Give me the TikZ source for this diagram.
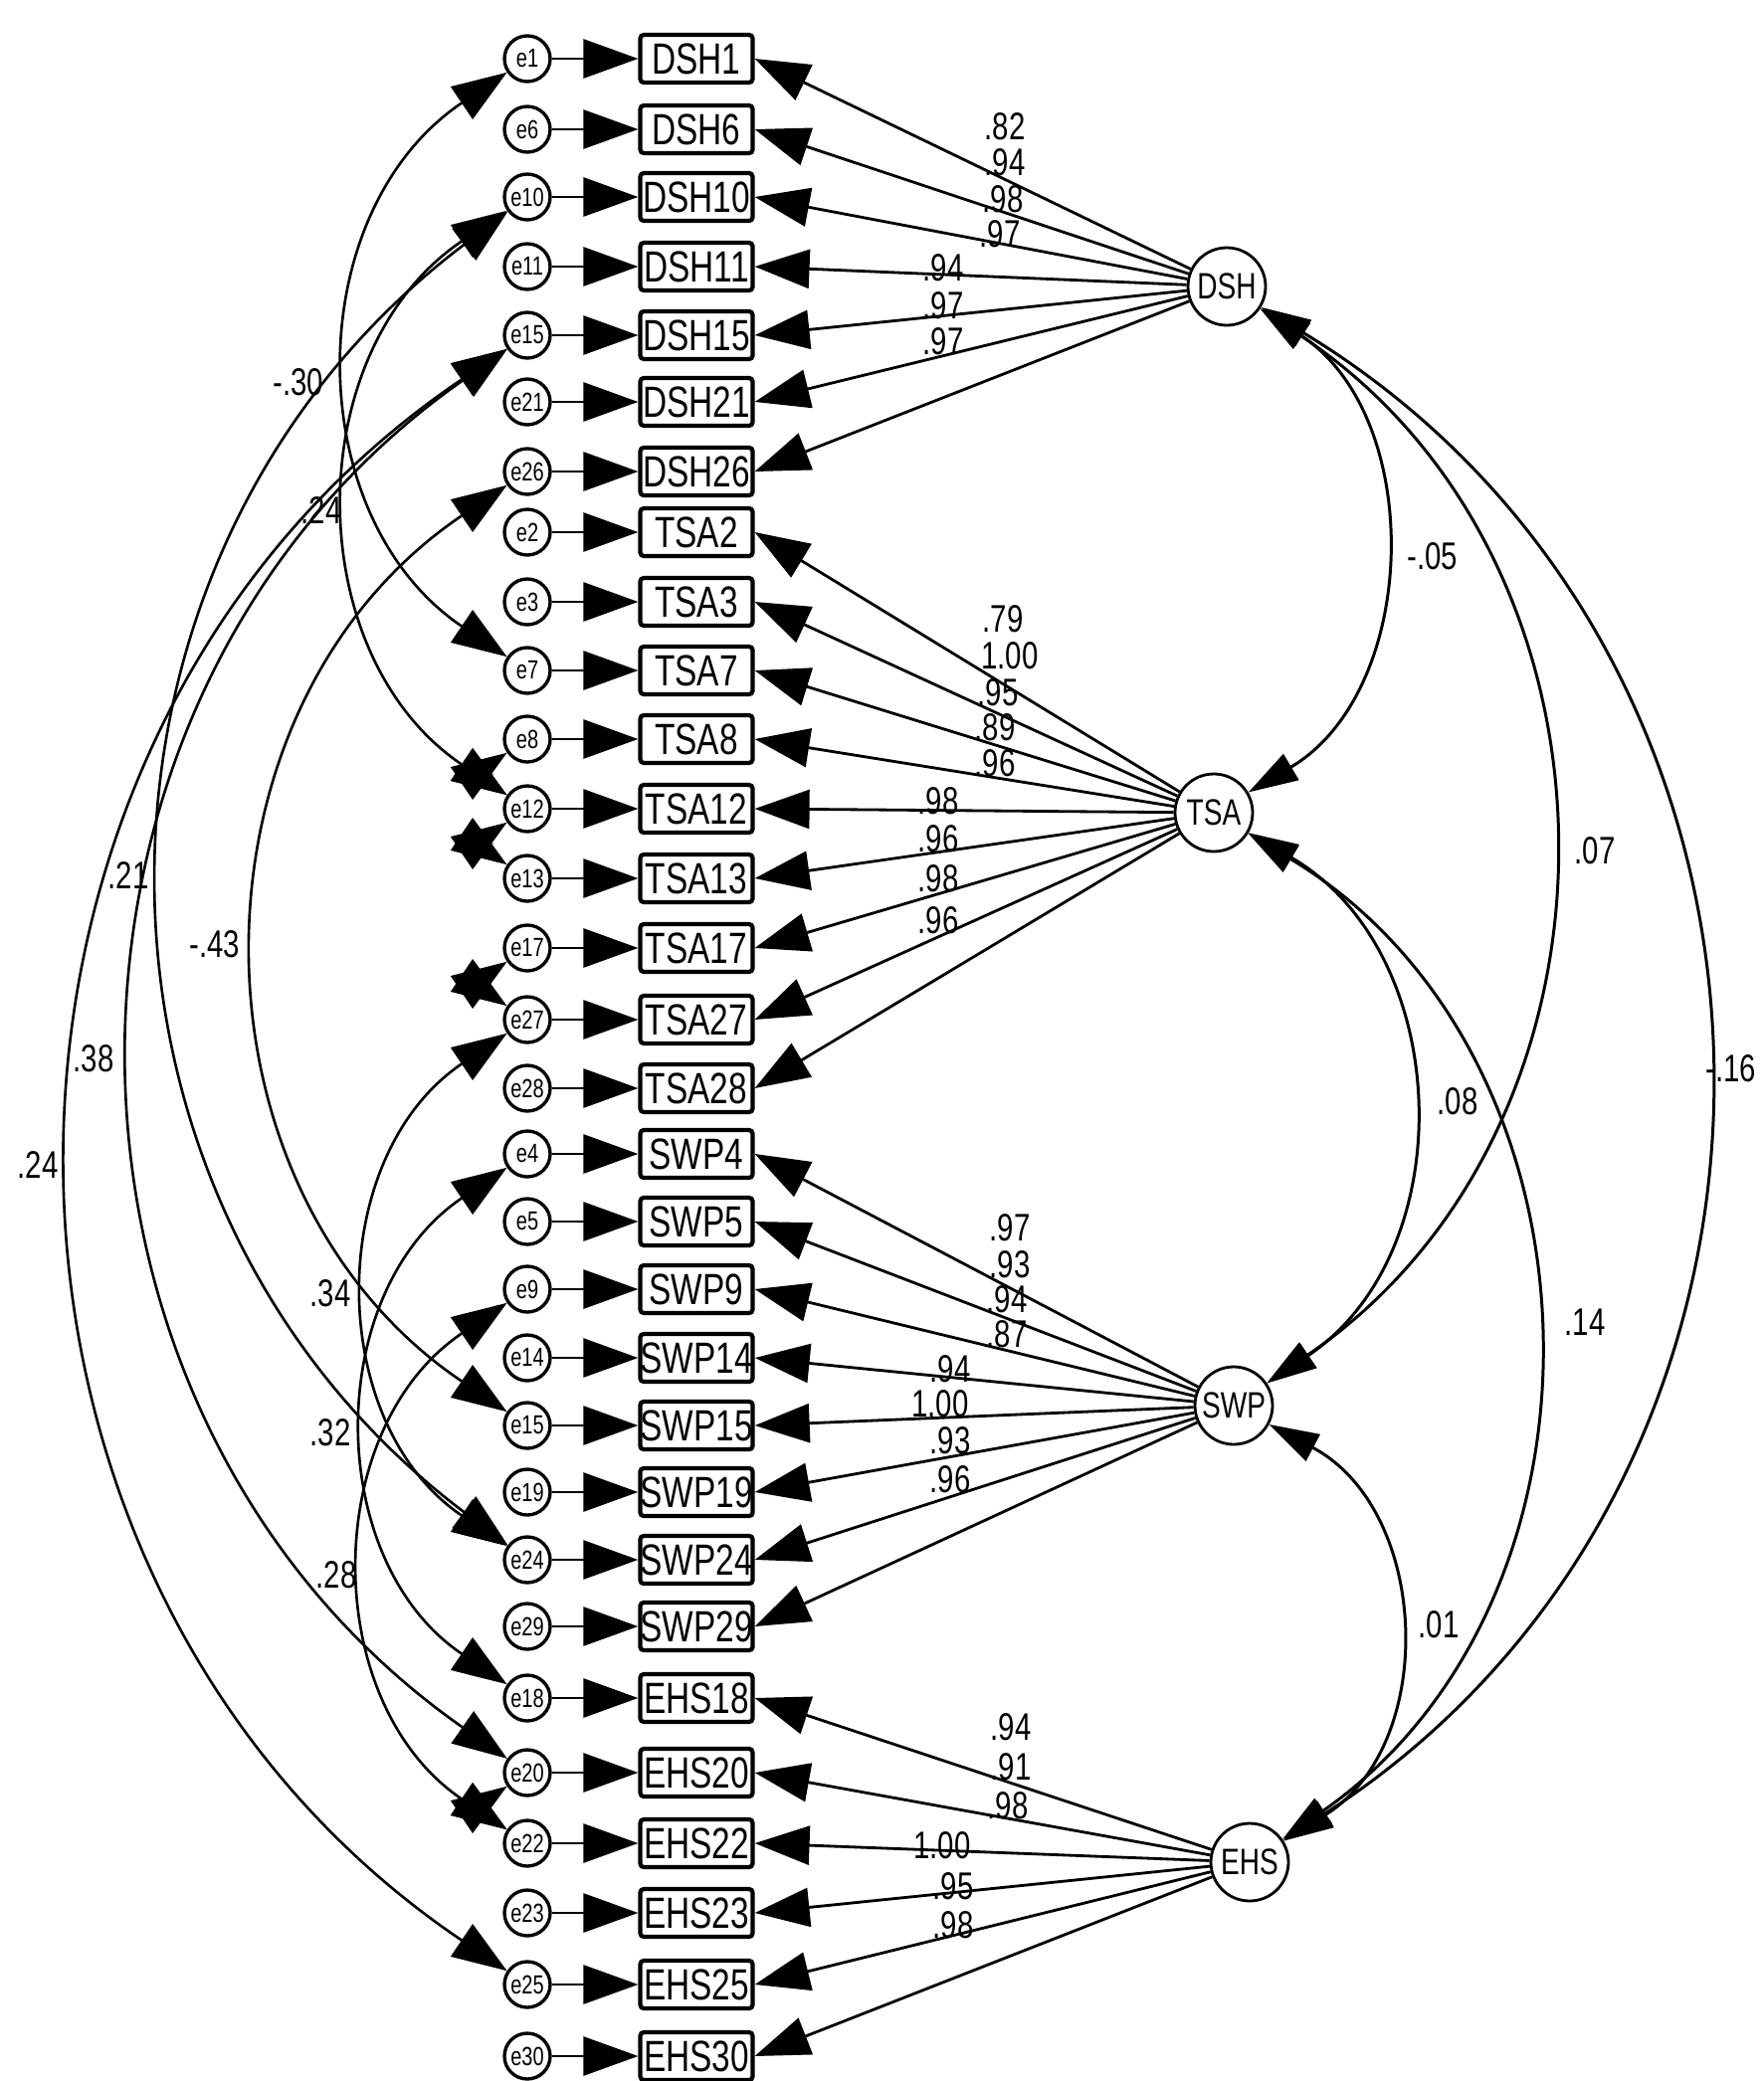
\documentclass[tikz,border=0pt]{standalone}
\usepackage{fontspec}
\newfontfamily\amosfont[FakeStretch=0.76]{Liberation Sans}
\usetikzlibrary{arrows.meta}

\begin{document}
\begin{tikzpicture}[
    x=0.02cm, y=0.02cm,
    >={Triangle[length=1.1cm, width=0.78cm]},
    item/.style={draw, line width=2.4pt, rounded corners=2pt, minimum width=2.26cm, minimum height=0.96cm, inner sep=0pt, font=\amosfont\fontsize{25}{25}\selectfont},
    err/.style={draw, circle, line width=1.9pt, minimum size=0.92cm, inner sep=0pt, font=\amosfont\fontsize{15}{15}\selectfont},
    factor/.style={draw, circle, line width=1.6pt, minimum size=1.56cm, inner sep=0pt, font=\amosfont\fontsize{21}{21}\selectfont},
    loading/.style={->, line width=1.6pt},
    cov/.style={<->, line width=1.5pt, bend right=56, looseness=1.1},
    corr/.style={{Triangle[length=1cm, width=0.6cm]}-{Triangle[length=1cm, width=0.6cm]}, line width=1.7pt},
    est/.style={font=\amosfont\fontsize{22}{22}\selectfont, inner sep=0pt}
]
\useasboundingbox (0,0) rectangle (1773,-2092);

% observed items with their error terms
\foreach \lab/\ee/\yy [count=\i] in {DSH1/1/59, DSH6/6/130, DSH10/10/198, DSH11/11/268, DSH15/15/337, DSH21/21/404, DSH26/26/474,
    TSA2/2/535, TSA3/3/605, TSA7/7/674, TSA8/8/743, TSA12/12/813, TSA13/13/883, TSA17/17/953, TSA27/27/1025, TSA28/28/1094,
    SWP4/4/1160, SWP5/5/1228, SWP9/9/1296, SWP14/14/1365, SWP15/15/1433, SWP19/19/1500, SWP24/24/1568, SWP29/29/1635,
    EHS18/18/1707, EHS20/20/1782, EHS22/22/1853, EHS23/23/1923, EHS25/25/1995, EHS30/30/2067}
{
    \node[item] (b\i) at (700,-\yy) {\lab};
    \node[err] (e\i) at (530,-\yy) {e\ee};
    \draw[loading] (e\i) -- (b\i);
}

% latent factors
\node[factor] (DSH) at (1233,-288) {DSH};
\node[factor] (TSA) at (1220,-817) {TSA};
\node[factor] (SWP) at (1240,-1413) {SWP};
\node[factor] (EHS) at (1256,-1872) {EHS};

\foreach \i in {1,...,7} \draw[loading] (DSH) -- (b\i.east);
\foreach \i in {8,...,16} \draw[loading] (TSA) -- (b\i.east);
\foreach \i in {17,...,24} \draw[loading] (SWP) -- (b\i.east);
\foreach \i in {25,...,30} \draw[loading] (EHS) -- (b\i.east);

% loadings
\foreach \x/\y/\v [count=\i] in {1010/127/.82, 1010/163/.94, 1008/200/.98, 1005/235/.97, 948/269/.94, 948/307/.97, 948/343/.97,
    1008/622/.79, 1015/659/1.00, 1003/696/.95, 1000/731/.89, 1000/767/.96, 943/805/.98, 943/843/.96, 943/883/.98, 943/925/.96,
    1015/1234/.97, 1015/1271/.93, 1012/1306/.94, 1012/1341/.87, 955/1376/.94, 945/1411/1.00, 955/1448/.93, 955/1487/.96,
    1016/1736/.94, 1016/1776/.91, 1013/1815/.98, 947/1855/1.00, 958/1896/.95, 958/1935/.98}
    \node[est] (w\i) at (\x,-\y) {\v};

% factor correlations
\draw[corr, bend left=58, looseness=1.05] (DSH) to (TSA);
\draw[corr, bend left=56, looseness=1.09] (DSH) to (SWP);
\draw[corr, bend left=58, looseness=1.13] (DSH) to (EHS);
\draw[corr, bend left=58, looseness=1.1] (TSA) to (SWP);
\draw[corr, bend left=57, looseness=1.08] (TSA) to (EHS);
\draw[corr, bend left=60, looseness=1.12] (SWP) to (EHS);

\node[est] (r1) at (1440,-559) {-.05};
\node[est] (r2) at (1603,-855) {.07};
\node[est] (r3) at (1740,-1074) {-.16};
\node[est] (r4) at (1465,-1107) {.08};
\node[est] (r5) at (1593,-1329) {.14};
\node[est] (r6) at (1446,-1633) {.01};

% error covariances
\draw[cov] (e1) to (e10);
\draw[cov] (e3) to (e12);
\draw[cov, bend right=53] (e3) to (e23);
\draw[cov] (e7) to (e21);
\draw[cov, bend right=55] (e5) to (e26);
\draw[cov] (e5) to (e29);
\draw[cov] (e15) to (e23);
\draw[cov] (e17) to (e25);
\draw[cov] (e19) to (e27);
\draw[cov] (e11) to (e12);
\draw[cov] (e12) to (e13);
\draw[cov] (e14) to (e15);
\draw[cov] (e26) to (e27);

\node[est] (c1) at (300,-384) {-.30};
\node[est] (c2) at (323,-513) {.24};
\node[est] (c3) at (129,-880) {.21};
\node[est] (c4) at (216,-949) {-.43};
\node[est] (c5) at (94,-1064) {.38};
\node[est] (c6) at (38,-1171) {.24};
\node[est] (c7) at (332,-1300) {.34};
\node[est] (c8) at (332,-1440) {.32};
\node[est] (c9) at (338,-1583) {.28};

\end{tikzpicture}
\end{document}
